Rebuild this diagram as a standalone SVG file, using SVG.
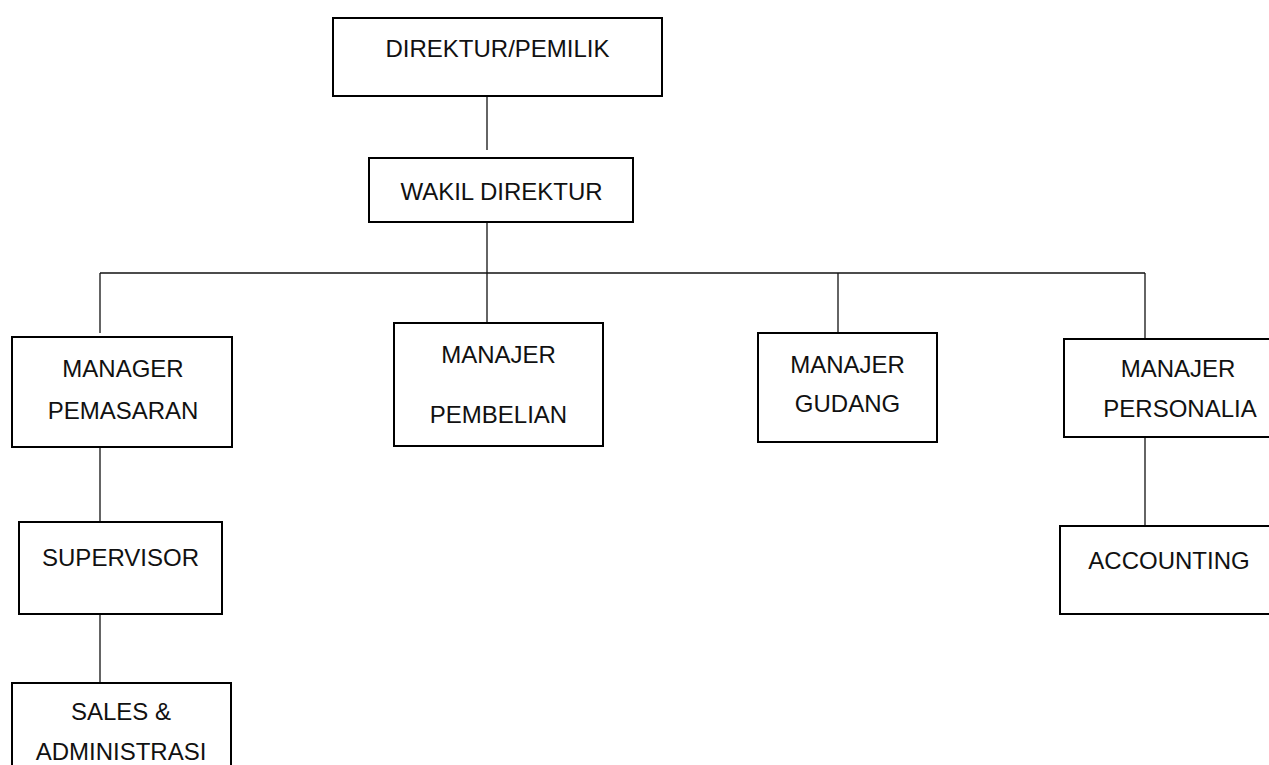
<svg xmlns="http://www.w3.org/2000/svg" width="1269" height="765" viewBox="0 0 1269 765">
<style>
.box{fill:#fff;stroke:#000;stroke-width:2}
.lbl{font-family:"Liberation Sans",Arial,sans-serif;font-size:24px;fill:#111;text-anchor:middle}
.conn{stroke:#111;stroke-width:1.3;fill:none}
</style>
<rect width="1269" height="765" fill="#fff"/>
<g id="connectors">
<line class="conn" x1="487" y1="96" x2="487" y2="150"/>
<line class="conn" x1="487" y1="222" x2="487" y2="323"/>
<line class="conn" x1="100" y1="273" x2="1145" y2="273"/>
<line class="conn" x1="100" y1="273" x2="100" y2="333"/>
<line class="conn" x1="838" y1="273" x2="838" y2="333"/>
<line class="conn" x1="1145" y1="273" x2="1145" y2="339"/>
<line class="conn" x1="100" y1="447" x2="100" y2="522"/>
<line class="conn" x1="100" y1="614" x2="100" y2="683"/>
<line class="conn" x1="1145" y1="437" x2="1145" y2="526"/>
</g>
<g id="direktur">
<rect class="box" x="333" y="18" width="329" height="78"/>
<text class="lbl" x="497.5" y="57">DIREKTUR/PEMILIK</text>
</g>
<g id="wakil">
<rect class="box" x="369" y="158" width="264" height="64"/>
<text class="lbl" x="501.5" y="200">WAKIL DIREKTUR</text>
</g>
<g id="pemasaran">
<rect class="box" x="12" y="337" width="220" height="110"/>
<text class="lbl" x="123" y="377">MANAGER</text>
<text class="lbl" x="123" y="419">PEMASARAN</text>
</g>
<g id="pembelian">
<rect class="box" x="394" y="323" width="209" height="123"/>
<text class="lbl" x="498.5" y="363">MANAJER</text>
<text class="lbl" x="498.5" y="423">PEMBELIAN</text>
</g>
<g id="gudang">
<rect class="box" x="758" y="333" width="179" height="109"/>
<text class="lbl" x="847.5" y="373">MANAJER</text>
<text class="lbl" x="847.5" y="412">GUDANG</text>
</g>
<g id="personalia">
<rect class="box" x="1064" y="339" width="228" height="98"/>
<text class="lbl" x="1178" y="377">MANAJER</text>
<text class="lbl" x="1180" y="417">PERSONALIA</text>
</g>
<g id="supervisor">
<rect class="box" x="19" y="522" width="203" height="92"/>
<text class="lbl" x="120.5" y="566">SUPERVISOR</text>
</g>
<g id="accounting">
<rect class="box" x="1060" y="526" width="228" height="88"/>
<text class="lbl" x="1169" y="569">ACCOUNTING</text>
</g>
<g id="sales">
<rect class="box" x="12" y="683" width="219" height="100"/>
<text class="lbl" x="121" y="720">SALES &amp;</text>
<text class="lbl" x="121" y="760">ADMINISTRASI</text>
</g>
</svg>
